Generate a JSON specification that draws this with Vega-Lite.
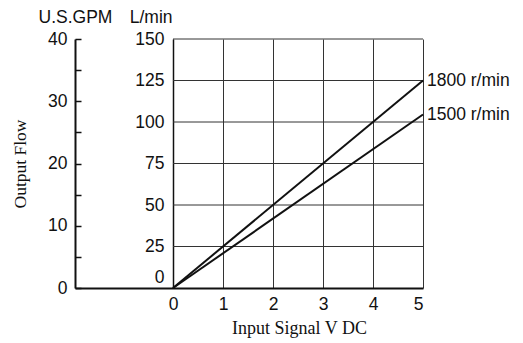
{
  "$schema": "https://vega.github.io/schema/vega-lite/v6.json",
  "width": 348,
  "height": 249,
  "autosize": "none",
  "padding": {"left": 75, "top": 39, "right": 100, "bottom": 55},
  "background": "white",
  "config": {"view": {"stroke": null}, "font": "Liberation Sans"},
  "datasets": {
    "grid": [{"flow": 25}, {"flow": 50}, {"flow": 75}, {"flow": 100}, {"flow": 125}, {"flow": 150}],
    "curves": [
      {"series": "1800 r/min", "v": 0, "flow": 0},
      {"series": "1800 r/min", "v": 5, "flow": 125},
      {"series": "1500 r/min", "v": 0, "flow": 0},
      {"series": "1500 r/min", "v": 5, "flow": 104.5}
    ],
    "gpm": [{"gpm": 0}, {"gpm": 40}]
  },
  "layer": [
    {
      "layer": [
        {
          "data": {"name": "grid"},
          "mark": {"type": "rule", "color": "#333", "strokeWidth": 1},
          "encoding": {
            "x": {"datum": 0, "type": "quantitative"},
            "x2": {"datum": 5},
            "y": {"field": "flow", "type": "quantitative", "scale": {"domain": [0, 150], "nice": false, "zero": true}}
          }
        },
        {
          "data": {"name": "curves"},
          "mark": {"type": "line", "color": "#111", "strokeWidth": 2},
          "encoding": {
            "x": {
              "field": "v", "type": "quantitative",
              "scale": {"domain": [-1.96, 5], "nice": false, "zero": false},
              "axis": {
                "values": [0, 1, 2, 3, 4, 5], "grid": true, "gridColor": "#333", "gridWidth": 1, "gridOpacity": 1,
                "ticks": false, "domainColor": "#111", "domainWidth": 2, "labelPadding": 7,
                "labelFontSize": 17.5, "labelColor": "#111",
                "title": "Input Signal V DC", "titleFont": "Liberation Serif", "titleFontSize": 18,
                "titleFontWeight": "normal", "titleColor": "#111", "titleX": 224, "titleY": 45,
                "titleAlign": "center", "titleBaseline": "alphabetic"
              }
            },
            "y": {
              "field": "flow", "type": "quantitative",
              "scale": {"domain": [0, 150], "nice": false, "zero": true},
              "axis": {
                "orient": "left", "offset": -98, "values": [0, 25, 50, 75, 100, 125, 150],
                "ticks": false, "grid": false, "domainColor": "#111", "domainWidth": 1.5,
                "labelPadding": 9, "labelFontSize": 17.5, "labelColor": "#111",
                "labelOffset": {"expr": "datum.value == 0 ? -11 : 0"},
                "title": "L/min", "titleAngle": 0, "titleX": -1, "titleY": -17,
                "titleAlign": "right", "titleBaseline": "alphabetic", "titleFontSize": 17.5,
                "titleFontWeight": "normal", "titleColor": "#111"
              }
            },
            "detail": {"field": "series", "type": "nominal"}
          }
        },
        {
          "data": {"name": "curves"},
          "transform": [{"filter": "datum.v == 5"}],
          "mark": {"type": "text", "align": "left", "baseline": "middle", "dx": 4, "fontSize": 17.5, "color": "#111"},
          "encoding": {
            "x": {"field": "v", "type": "quantitative"},
            "y": {"field": "flow", "type": "quantitative"},
            "text": {"field": "series", "type": "nominal"}
          }
        }
      ]
    },
    {
      "data": {"name": "gpm"},
      "mark": {"type": "point", "opacity": 0},
      "encoding": {
        "y": {
          "field": "gpm", "type": "quantitative",
          "scale": {"domain": [0, 40], "nice": false, "zero": true},
          "axis": {
            "orient": "left", "offset": 0, "values": [0, 5, 10, 15, 20, 25, 30, 35, 40],
            "tickSize": -6, "tickWidth": 1.5, "tickColor": "#111", "grid": false,
            "domainColor": "#111", "domainWidth": 2,
            "labelExpr": "datum.value % 10 === 0 ? datum.label : ''",
            "labelPadding": 14, "labelFontSize": 17.5, "labelColor": "#111",
            "title": "U.S.GPM", "titleAngle": 0, "titleX": 0, "titleY": -17,
            "titleAlign": "center", "titleBaseline": "alphabetic", "titleFontSize": 17.5,
            "titleFontWeight": "normal", "titleColor": "#111"
          }
        }
      }
    },
    {
      "data": {"name": "gpm"},
      "mark": {"type": "point", "opacity": 0},
      "encoding": {
        "y": {
          "field": "gpm", "type": "quantitative",
          "scale": {"domain": [0, 40], "nice": false, "zero": true},
          "axis": {
            "orient": "left", "offset": 0, "domain": false, "ticks": false, "labels": false, "grid": false,
            "title": "Output Flow", "titleFont": "Liberation Serif", "titleFontSize": 17.5,
            "titleFontWeight": "normal", "titleColor": "#111", "titleAngle": -90,
            "titleX": -55, "titleY": 124.5, "titleAlign": "center", "titleBaseline": "middle"
          }
        }
      }
    }
  ],
  "resolve": {"scale": {"y": "independent"}, "axis": {"y": "independent"}}
}
